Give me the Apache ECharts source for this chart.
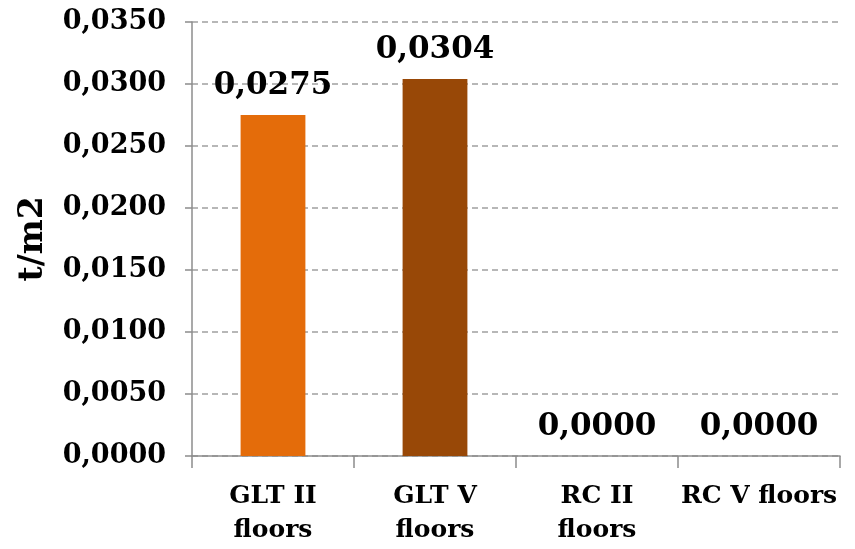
<!DOCTYPE html>
<html><head><meta charset="utf-8">
<script src="https://cdn.jsdelivr.net/npm/echarts@6/dist/echarts.min.js"></script>
<style>html,body{margin:0;padding:0;background:#fff}#c{width:855px;height:549px}</style>
</head><body><div id="c"></div>
<script>
const categories = ['GLT II\nfloors', 'GLT V\nfloors', 'RC II\nfloors', 'RC V floors'];
const values = [0.0275, 0.0304, 0.0000, 0.0000];
const barColors = ['#E46C0A', '#984807', '#4F81BD', '#C0504D'];
const yTitle = 't/m2';
const fmt = v => v.toFixed(4).replace('.', ',');
const FONT = 'DejaVu Serif';
const chart = echarts.init(document.getElementById('c'));
chart.setOption({
  animation: false,
  grid: { left: 192, right: 15, top: 22, bottom: 93 },
  xAxis: {
    type: 'category', data: categories,
    axisLine: { lineStyle: { color: '#8c8c8c', width: 1.5 } },
    axisTick: { show: true, length: 12, lineStyle: { color: '#8c8c8c', width: 1.5 } },
    axisLabel: { color: '#000', fontFamily: FONT, fontWeight: 'bold', fontSize: 25, lineHeight: 34, margin: 23, interval: 0 }
  },
  yAxis: {
    type: 'value', min: 0, max: 0.035, interval: 0.005,
    name: yTitle, nameLocation: 'middle', nameGap: 142, nameRotate: 90,
    nameTextStyle: { color: '#000', fontFamily: FONT, fontWeight: 'bold', fontSize: 33 },
    axisLine: { show: true, lineStyle: { color: '#8c8c8c', width: 1.5 } },
    axisTick: { show: true, length: 7, lineStyle: { color: '#8c8c8c', width: 1.5 } },
    axisLabel: { color: '#000', fontFamily: FONT, fontWeight: 'bold', fontSize: 27, margin: 26, formatter: fmt },
    splitLine: { show: true, lineStyle: { color: '#a0a0a0', type: [6, 4], width: 1.5 } }
  },
  series: [{
    type: 'bar', barWidth: '40%',
    data: values.map((v, i) => ({ value: v, itemStyle: { color: barColors[i] } })),
    label: { show: true, position: 'top', distance: 14, color: '#000', fontFamily: FONT, fontWeight: 'bold', fontSize: 31, formatter: p => fmt(p.value) }
  }]
});
</script></body></html>
